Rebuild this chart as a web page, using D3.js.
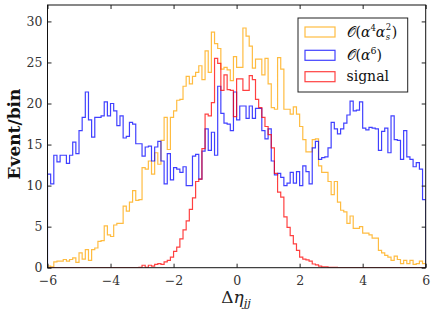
<!DOCTYPE html>
<html><head><meta charset="utf-8">
<script src="https://cdn.jsdelivr.net/npm/d3@7"></script>
<style>body{margin:0;background:#fff}svg{display:block}</style>
</head><body>
<svg id="c" width="436" height="317"></svg>
<script>
// ---- data ----
const binStart = -6, binStep = 0.1, nBins = 120;
const xTicks = [-6, -4, -2, 0, 2, 4, 6];
const yTicks = [0, 5, 10, 15, 20, 25, 30];
const seriesNames = ["𝒪(α⁴αs²)", "𝒪(α⁶)", "signal"];
const orangeVals = [0.2,0.1,0.7,0.8,0.8,1.0,0.8,1.0,1.2,0.65,1.8,1.05,2.2,0.9,2.2,2.4,3.2,3.3,5.1,4.0,
 3.8,5.2,5.4,5.4,7.5,6.9,8.0,9.4,8.2,8.3,12.2,12.0,13.0,11.4,14.0,12.6,15.5,18.3,14.4,18.3,
 19.1,20.4,20.5,22.1,23.3,22.4,23.3,23.8,24.6,22.9,26.4,23.8,28.7,27.3,26.7,24.2,24.4,24.1,22.8,25.7,
 24.4,24.4,29.2,28.2,27.0,24.3,25.4,25.4,23.5,25.5,22.4,19.5,19.3,25.6,24.2,19.3,19.3,18.7,19.6,18.7,
 17.2,15.6,14.1,14.1,15.6,15.7,12.4,11.6,11.6,10.5,8.9,10.5,8.0,7.0,6.8,5.4,6.3,4.8,4.8,5.0,
 4.2,4.2,4.0,3.6,3.6,2.1,1.8,1.5,1.3,0.9,1.4,1.0,0.5,0.9,0.5,0.9,0.4,0.5,0.8,0.5];
const blueVals = [11.4,10.2,13.7,12.9,13.7,13.7,12.7,13.7,15.3,13.9,16.7,18.3,21.4,18.0,15.9,18.3,18.3,18.5,20.2,18.5,
 20.0,19.1,17.3,18.5,15.8,16.0,17.7,17.5,15.1,15.1,13.6,14.7,14.8,13.0,14.7,15.4,13.0,10.2,13.9,10.7,
 12.2,12.0,11.6,12.3,10.0,10.0,13.6,13.8,10.8,14.2,16.9,14.3,16.5,13.7,22.1,18.8,17.6,17.5,16.7,21.4,
 18.0,19.7,19.7,18.2,19.7,18.2,19.4,19.4,16.7,15.7,16.9,13.0,11.3,11.5,11.0,10.0,10.3,11.6,10.3,11.7,
 10.0,12.4,11.7,10.2,14.6,15.4,13.2,13.4,13.5,14.6,17.7,16.9,16.3,16.9,17.6,18.6,20.3,19.1,19.2,20.2,
 17.0,16.8,17.1,17.0,16.9,14.3,16.6,17.0,14.0,18.5,15.6,15.5,13.2,16.7,13.5,13.2,12.3,12.8,12.0,8.3];
const redVals = [0,0,0,0,0,0,0,0,0,0,0,0,0,0,0,0,0,0,0,0,
 0,0,0,0,0,0,0,0,0,0.05,0.3,0.05,0.3,0.2,0.4,0.5,0.4,0.7,0.9,1.3,
 2.0,2.5,3.5,4.6,5.7,7.1,8.5,10.5,10.8,14.5,18.7,18.5,20.1,25.5,24.9,21.6,23.5,21.7,21.6,18.4,
 23.0,23.0,21.6,21.6,23.4,22.9,20.5,19.5,18.3,17.2,16.2,14.6,11.5,9.2,8.6,6.2,4.9,3.9,2.9,2.1,
 1.3,1.05,0.95,0.8,0.45,0.35,0.2,0.1,0.1,0.05,0.05,0.05,0,0,0,0,0,0,0,0,
 0,0,0,0,0,0,0,0,0,0,0,0,0,0,0,0,0,0,0,0];

// ---- layout ----
const svg = d3.select("#c");
const L = 47.5, R = 425.7, T = 5, B = 267.7;
const x = d3.scaleLinear().domain([-6, 6]).range([L, R]);
const y = d3.scaleLinear().domain([0, 32]).range([B, T]);
const edges = d3.range(nBins + 1).map(i => binStart + i * binStep);

const colors = ["#FFA500", "#0000FF", "#FF0000"];
const allVals = [orangeVals, blueVals, redVals];

const line = d3.line().x(d => x(d[0])).y(d => y(d[1])).curve(d3.curveStepAfter);
function stepPts(vals) {
  const pts = [[edges[0], 0]];
  vals.forEach((v, i) => pts.push([edges[i], v]));
  pts.push([edges[nBins], vals[nBins - 1]]);
  pts.push([edges[nBins], 0]);
  return pts;
}
const plot = svg.append("g");
plot.append("clipPath").attr("id","clp").append("rect").attr("x",L).attr("y",T).attr("width",R-L).attr("height",B-T);
allVals.forEach((vals, k) => {
  plot.append("path").attr("d", line(stepPts(vals))).attr("fill", "none")
    .attr("stroke", colors[k]).attr("stroke-opacity", 0.75).attr("stroke-width", 1.2)
    .attr("clip-path","url(#clp)");
});

// ---- axes ----
const fmt = d => d < 0 ? "\u2212" + Math.abs(d) : String(d);
const tickFont = "DejaVu Serif";
function styleAxis(g, labels) {
  g.select(".domain").remove();
  g.selectAll(".tick line").attr("stroke", "#222").attr("stroke-width", 1);
  g.selectAll(".tick text").attr("fill", "#333").attr("font-family", tickFont).attr("font-size", 12.5);
  if (!labels) g.selectAll(".tick text").remove();
}
svg.append("g").attr("transform", `translate(0,${B})`)
  .call(d3.axisBottom(x).tickValues(xTicks).tickSize(-4).tickPadding(8).tickFormat(fmt))
  .call(g => styleAxis(g, true));
svg.append("g").attr("transform", `translate(0,${T})`)
  .call(d3.axisTop(x).tickValues(xTicks).tickSize(-4).tickFormat(fmt))
  .call(g => styleAxis(g, false));
svg.append("g").attr("transform", `translate(${L},0)`)
  .call(d3.axisLeft(y).tickValues(yTicks).tickSize(-4).tickPadding(5))
  .call(g => styleAxis(g, true));
svg.append("g").attr("transform", `translate(${R},0)`)
  .call(d3.axisRight(y).tickValues(yTicks).tickSize(-4))
  .call(g => styleAxis(g, false));

svg.append("rect").attr("x", L).attr("y", T).attr("width", R - L).attr("height", B - T)
  .attr("fill", "none").attr("stroke", "#111").attr("stroke-width", 1);

// ---- axis labels ----
const xl = svg.append("text").attr("x", 236).attr("y", 303).attr("text-anchor", "middle")
  .attr("font-family", "DejaVu Serif").attr("font-size", 17).attr("fill", "#222");
xl.append("tspan").text("Δ");
xl.append("tspan").attr("font-style", "italic").text("η");
xl.append("tspan").attr("font-style", "italic").attr("font-size", 11.5).attr("dy", 4).text("jj");

svg.append("text").attr("transform", "translate(20,134) rotate(-90)").attr("text-anchor", "middle")
  .attr("font-family", "DejaVu Serif").attr("font-weight", "bold").attr("font-size", 17).attr("fill", "#111")
  .text("Event/bin");

// ---- legend ----
const lg = svg.append("g");
lg.append("rect").attr("x", 298).attr("y", 18).attr("width", 109.7).attr("height", 74)
  .attr("fill", "#fff").attr("stroke", "#222").attr("stroke-width", 1);
const rowY = [32, 55.3, 76.7];
rowY.forEach((ry, k) => {
  lg.append("rect").attr("x", 305).attr("y", ry - 5).attr("width", 30).attr("height", 10)
    .attr("fill", "none").attr("stroke", colors[k]).attr("stroke-opacity", 0.75).attr("stroke-width", 1.2);
});
function legText(k) {
  return lg.append("text").attr("x", 346.5).attr("y", rowY[k] + 4.5)
    .attr("font-family", "DejaVu Serif").attr("font-size", 14).attr("fill", "#111");
}
// first label: O(α^4 α_s^2), sub/superscripts drawn as separate small texts
let t0 = legText(0);
t0.append("tspan").text("𝒪(");
t0.append("tspan").attr("font-style", "italic").text("α");
t0.append("tspan").attr("font-size", 8.5).attr("dy", -6).text("4");
t0.append("tspan").attr("font-style", "italic").attr("dy", 6).text("α");
const t0w = t0.node().getComputedTextLength();
lg.append("text").attr("x", 346.5 + t0w + 0.5).attr("y", rowY[0] + 4.5 - 7)
  .attr("font-family", "DejaVu Serif").attr("font-size", 8.5).attr("fill", "#111").text("2");
lg.append("text").attr("x", 346.5 + t0w + 0.5).attr("y", rowY[0] + 4.5 + 3.5)
  .attr("font-family", "DejaVu Serif").attr("font-style", "italic").attr("font-size", 8.5).attr("fill", "#111").text("s");
lg.append("text").attr("x", 346.5 + t0w + 6.5).attr("y", rowY[0] + 4.5)
  .attr("font-family", "DejaVu Serif").attr("font-size", 14).attr("fill", "#111").text(")");
let t1 = legText(1);
t1.append("tspan").text("𝒪(");
t1.append("tspan").attr("font-style", "italic").text("α");
t1.append("tspan").attr("font-size", 9.5).attr("dy", -6).text("6");
t1.append("tspan").attr("dy", 6).text(")");
legText(2).text(seriesNames[2]);
</script>
</body></html>
